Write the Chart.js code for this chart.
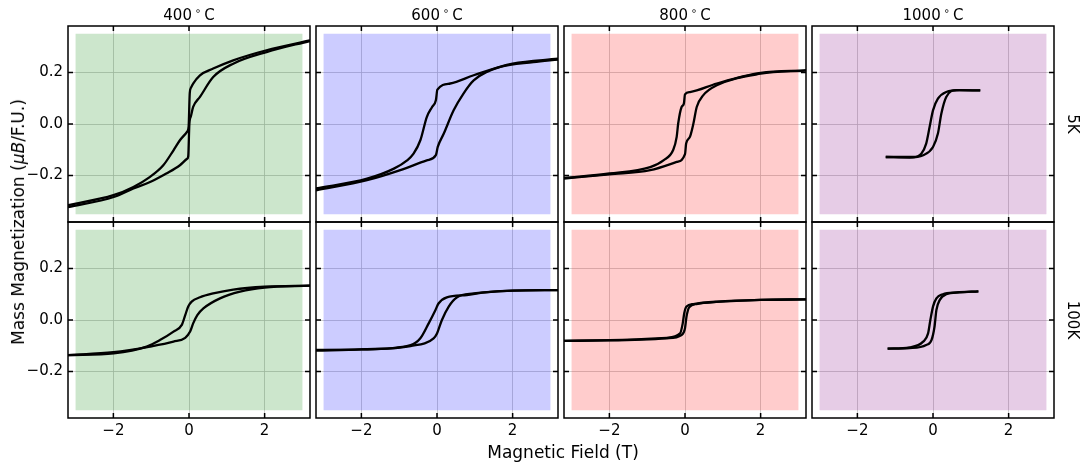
<!DOCTYPE html>
<html>
<head>
<meta charset="utf-8">
<script src="https://cdn.jsdelivr.net/npm/chart.js@4.4.1/dist/chart.umd.min.js"></script>
<style>
  body { margin: 0; background: #fff; }
  #fig { position: relative; width: 1091px; height: 466px; font-family: "DejaVu Sans", sans-serif; color: #000; overflow: hidden; }
  #fig canvas { position: absolute; }
  .lbl { position: absolute; white-space: nowrap; transform: translate(-50%, -50%); }
  .title { font-size: 15px; }
  .deg { font-size: 10px; position: relative; top: -6px; margin: 0 3px; }
  .side { font-size: 15px; transform: translate(-50%, -50%) rotate(90deg); }
  .ylab { font-size: 17px; transform: translate(-50%, -50%) rotate(-90deg); }
  .xlab { font-size: 17px; }
</style>
</head>
<body>
<div id="fig"></div>
<script>
// anneal temperatures (columns) and measurement temperatures (rows)
const anneals = ['400', '600', '800', '1000'];
const measTemps = ['5K', '100K'];
const fieldTicks = [-2, 0, 2];
const momentTicks = [-0.2, 0, 0.2];
const fieldRange = [-3.2, 3.2];
const momentRange = [-0.38, 0.38];
const bandField = [-3, 3];
const bandMoment = [-0.35, 0.35];

// 5K loops: "dec" = field sweeping down, "inc" = field sweeping up
const h400_5K_dec = [-3.2, -2, -1.47, -1.03, -0.68, -0.41, -0.24, -0.05, -0.01, 0.02, 0.05, 0.11, 0.29, 0.64, 1.17, 2.05, 3.2];
const m400_5K_dec = [-0.315, -0.276, -0.244, -0.205, -0.16, -0.102, -0.063, -0.03, -0.01, 0.12, 0.14, 0.157, 0.189, 0.215, 0.247, 0.286, 0.324];
const h400_5K_inc = [-3.2, -1.99, -1.47, -1.03, -0.6, -0.24, -0.05, -0.02, 0.01, 0.05, 0.11, 0.29, 0.64, 1.17, 2.05, 3.2];
const m400_5K_inc = [-0.322, -0.283, -0.25, -0.225, -0.192, -0.16, -0.135, -0.125, 0.0, 0.03, 0.066, 0.105, 0.182, 0.234, 0.279, 0.322];

const h600_5K_dec = [-3.2, -1.85, -1.14, -0.79, -0.62, -0.44, -0.27, -0.13, -0.03, 0.01, 0.35, 0.97, 2, 3.2];
const m600_5K_dec = [-0.25, -0.212, -0.173, -0.141, -0.115, -0.063, 0.027, 0.066, 0.092, 0.133, 0.157, 0.189, 0.234, 0.253];
const h600_5K_inc = [-3.2, -1.85, -0.97, -0.27, -0.03, 0.02, 0.18, 0.44, 0.7, 0.97, 1.67, 2.55, 3.2];
const m600_5K_inc = [-0.257, -0.218, -0.179, -0.141, -0.121, -0.089, -0.037, 0.053, 0.118, 0.169, 0.221, 0.24, 0.25];

const h800_5K_dec = [-3.2, -2, -0.92, -0.57, -0.31, -0.22, -0.18, -0.09, -0.03, 0, 0.13, 0.84, 2, 3.2];
const m800_5K_dec = [-0.209, -0.192, -0.167, -0.141, -0.10, -0.05, 0.002, 0.066, 0.079, 0.115, 0.124, 0.157, 0.198, 0.208];
const h800_5K_inc = [-3.2, -2, -0.92, -0.22, 0, 0.03, 0.13, 0.22, 0.31, 0.48, 0.84, 2, 3.2];
const m800_5K_inc = [-0.212, -0.195, -0.179, -0.147, -0.117, -0.076, -0.05, 0.0, 0.066, 0.111, 0.15, 0.195, 0.208];

const h1000_5K_dec = [-1.25, -0.53, -0.31, -0.18, -0.09, 0, 0.13, 0.35, 0.7, 1.25];
const m1000_5K_dec = [-0.128, -0.128, -0.115, -0.076, -0.012, 0.053, 0.098, 0.124, 0.131, 0.13];
const h1000_5K_inc = [-1.25, -0.62, -0.26, 0, 0.13, 0.22, 0.35, 0.62, 1.25];
const m1000_5K_inc = [-0.128, -0.13, -0.121, -0.089, -0.037, 0.04, 0.105, 0.131, 0.13];

// 100K loops
const h400_100K_dec = [-3.2, -1.99, -1.12, -0.77, -0.41, -0.19, -0.1, -0.02, 0.07, 0.29, 0.64, 1.17, 2, 3.2];
const m400_100K_dec = [-0.136, -0.129, -0.103, -0.078, -0.045, -0.019, 0.019, 0.052, 0.071, 0.088, 0.103, 0.118, 0.129, 0.133];
const h400_100K_inc = [-3.2, -2, -1.03, -0.41, -0.1, 0.03, 0.11, 0.22, 0.38, 0.82, 1.35, 2, 3.2];
const m400_100K_inc = [-0.136, -0.125, -0.103, -0.084, -0.069, -0.045, -0.013, 0.019, 0.045, 0.084, 0.11, 0.126, 0.133];

const h600_100K_dec = [-3.2, -2, -0.7, -0.44, -0.22, -0.04, 0.04, 0.26, 0.79, 1.2, 2, 3.2];
const m600_100K_dec = [-0.116, -0.114, -0.097, -0.071, -0.013, 0.039, 0.064, 0.088, 0.097, 0.106, 0.114, 0.116];
const h600_100K_inc = [-3.2, -2, -0.7, -0.09, 0, 0.13, 0.31, 0.53, 0.97, 2, 3.2];
const m600_100K_inc = [-0.119, -0.114, -0.101, -0.071, -0.052, 0.0, 0.052, 0.088, 0.103, 0.114, 0.116];

const h800_100K_dec = [-3.2, -2, -0.48, -0.13, -0.06, -0.02, 0.04, 0.22, 0.84, 2, 3.2];
const m800_100K_dec = [-0.081, -0.078, -0.069, -0.052, -0.013, 0.026, 0.052, 0.062, 0.071, 0.078, 0.080];
const h800_100K_inc = [-3.2, -2, -0.48, -0.09, 0, 0.04, 0.11, 0.31, 0.84, 2, 3.2];
const m800_100K_inc = [-0.081, -0.079, -0.071, -0.058, -0.032, 0.013, 0.049, 0.062, 0.070, 0.078, 0.080];

const h1000_100K_dec = [-1.2, -0.62, -0.26, -0.13, -0.07, 0, 0.09, 0.26, 0.62, 1.2];
const m1000_100K_dec = [-0.111, -0.106, -0.084, -0.052, 0.0, 0.052, 0.084, 0.1, 0.107, 0.111];
const h1000_100K_inc = [-1.2, -0.62, -0.18, -0.04, 0.04, 0.09, 0.18, 0.35, 0.7, 1.2];
const m1000_100K_inc = [-0.111, -0.109, -0.097, -0.078, -0.026, 0.039, 0.078, 0.1, 0.107, 0.111];

const loops = {
    '400_5K': [[h400_5K_dec, m400_5K_dec], [h400_5K_inc, m400_5K_inc]],
    '600_5K': [[h600_5K_dec, m600_5K_dec], [h600_5K_inc, m600_5K_inc]],
    '800_5K': [[h800_5K_dec, m800_5K_dec], [h800_5K_inc, m800_5K_inc]],
    '1000_5K': [[h1000_5K_dec, m1000_5K_dec], [h1000_5K_inc, m1000_5K_inc]],
    '400_100K': [[h400_100K_dec, m400_100K_dec], [h400_100K_inc, m400_100K_inc]],
    '600_100K': [[h600_100K_dec, m600_100K_dec], [h600_100K_inc, m600_100K_inc]],
    '800_100K': [[h800_100K_dec, m800_100K_dec], [h800_100K_inc, m800_100K_inc]],
    '1000_100K': [[h1000_100K_dec, m1000_100K_dec], [h1000_100K_inc, m1000_100K_inc]],
};

// layout (page pixels)
const colLeft = [68, 316, 564, 812];
const rowTop = [26, 222];
const panelW = 242, panelH = 196;
const padL = 50, padT = 14, padR = 14, padB = 30;
const bandColors = ['rgba(0,128,0,0.2)', 'rgba(0,0,255,0.2)', 'rgba(255,0,0,0.2)', 'rgba(128,0,128,0.2)'];
const tickFont = { family: 'DejaVu Sans', size: 15 };

const fmtNum = v => (v < 0 ? '\u2212' : '') + Math.abs(v);
const fmtMom = v => (v < 0 ? '\u2212' : '') + Math.abs(v).toFixed(1);

const panelFrame = {
    id: 'panelFrame',
    beforeDatasetsDraw(chart, args, opts) {
        const { ctx, scales: { x, y } } = chart;
        const x0 = x.getPixelForValue(bandField[0]), x1 = x.getPixelForValue(bandField[1]);
        const y0 = y.getPixelForValue(bandMoment[1]), y1 = y.getPixelForValue(bandMoment[0]);
        ctx.save();
        ctx.fillStyle = opts.color;
        ctx.fillRect(x0, y0, x1 - x0, y1 - y0);
        ctx.restore();
    },
    afterDraw(chart) {
        const { ctx, chartArea: a, scales: { x, y } } = chart;
        ctx.save();
        ctx.strokeStyle = '#000';
        ctx.lineWidth = 1.5;
        ctx.beginPath();
        x.ticks.forEach(t => {
            const px = x.getPixelForValue(t.value);
            ctx.moveTo(px, a.bottom); ctx.lineTo(px, a.bottom - 5);
            ctx.moveTo(px, a.top); ctx.lineTo(px, a.top + 5);
        });
        y.ticks.forEach(t => {
            const py = y.getPixelForValue(t.value);
            ctx.moveTo(a.left, py); ctx.lineTo(a.left + 5, py);
            ctx.moveTo(a.right, py); ctx.lineTo(a.right - 5, py);
        });
        ctx.stroke();
        ctx.strokeRect(a.left, a.top, a.right - a.left, a.bottom - a.top);
        ctx.restore();
    }
};

const fig = document.getElementById('fig');

function addLabel(cls, html, cx, cy) {
    const d = document.createElement('div');
    d.className = 'lbl ' + cls;
    d.innerHTML = html;
    d.style.left = cx + 'px';
    d.style.top = cy + 'px';
    fig.appendChild(d);
}

measTemps.forEach((mt, r) => {
    anneals.forEach((an, c) => {
        const cv = document.createElement('canvas');
        const w = panelW + padL + padR, h = panelH + padT + padB;
        cv.width = w; cv.height = h;
        cv.style.left = (colLeft[c] - padL) + 'px';
        cv.style.top = (rowTop[r] - padT) + 'px';
        cv.style.width = w + 'px'; cv.style.height = h + 'px';
        fig.appendChild(cv);

        const branches = loops[an + '_' + mt];
        new Chart(cv.getContext('2d'), {
            type: 'line',
            data: {
                datasets: branches.map(([hs, ms]) => ({
                    data: hs.map((v, i) => ({ x: v, y: ms[i] })),
                    borderColor: '#000',
                    borderWidth: 2.3,
                    pointRadius: 0,
                    fill: false,
                    cubicInterpolationMode: 'monotone'
                }))
            },
            options: {
                responsive: false,
                animation: false,
                events: [],
                layout: { padding: { left: 0, top: padT, right: padR, bottom: 0 } },
                plugins: {
                    legend: { display: false },
                    tooltip: { enabled: false },
                    panelFrame: { color: bandColors[c] }
                },
                scales: {
                    x: {
                        type: 'linear',
                        min: fieldRange[0], max: fieldRange[1],
                        afterBuildTicks: s => { s.ticks = fieldTicks.map(v => ({ value: v })); },
                        afterFit: s => { s.height = padB; },
                        border: { display: false },
                        grid: { color: '#c4c4c4', lineWidth: 0.8, drawTicks: false },
                        ticks: {
                            display: r === 1,
                            color: '#000', font: tickFont, padding: 4,
                            maxRotation: 0, autoSkip: false,
                            callback: v => fmtNum(v)
                        }
                    },
                    y: {
                        type: 'linear',
                        min: momentRange[0], max: momentRange[1],
                        afterBuildTicks: s => { s.ticks = momentTicks.map(v => ({ value: v })); },
                        afterFit: s => { s.width = padL; },
                        border: { display: false },
                        grid: { color: '#c4c4c4', lineWidth: 0.8, drawTicks: false },
                        ticks: {
                            display: c === 0,
                            color: '#000', font: tickFont, padding: 5,
                            autoSkip: false,
                            callback: v => fmtMom(v)
                        }
                    }
                }
            },
            plugins: [panelFrame]
        });
    });
});

// titles, row labels, axis labels
anneals.forEach((an, c) => {
    addLabel('title', an + '<span class="deg">\u2218</span>C', colLeft[c] + panelW / 2, 15);
});
measTemps.forEach((mt, r) => {
    addLabel('side', mt, 1073, rowTop[r] + panelH / 2);
});
addLabel('ylab', 'Mass Magnetization (<i>\u03bcB</i>/F.U.)', 18, 222);
addLabel('xlab', 'Magnetic Field (T)', 563, 452);
</script>
</body>
</html>
